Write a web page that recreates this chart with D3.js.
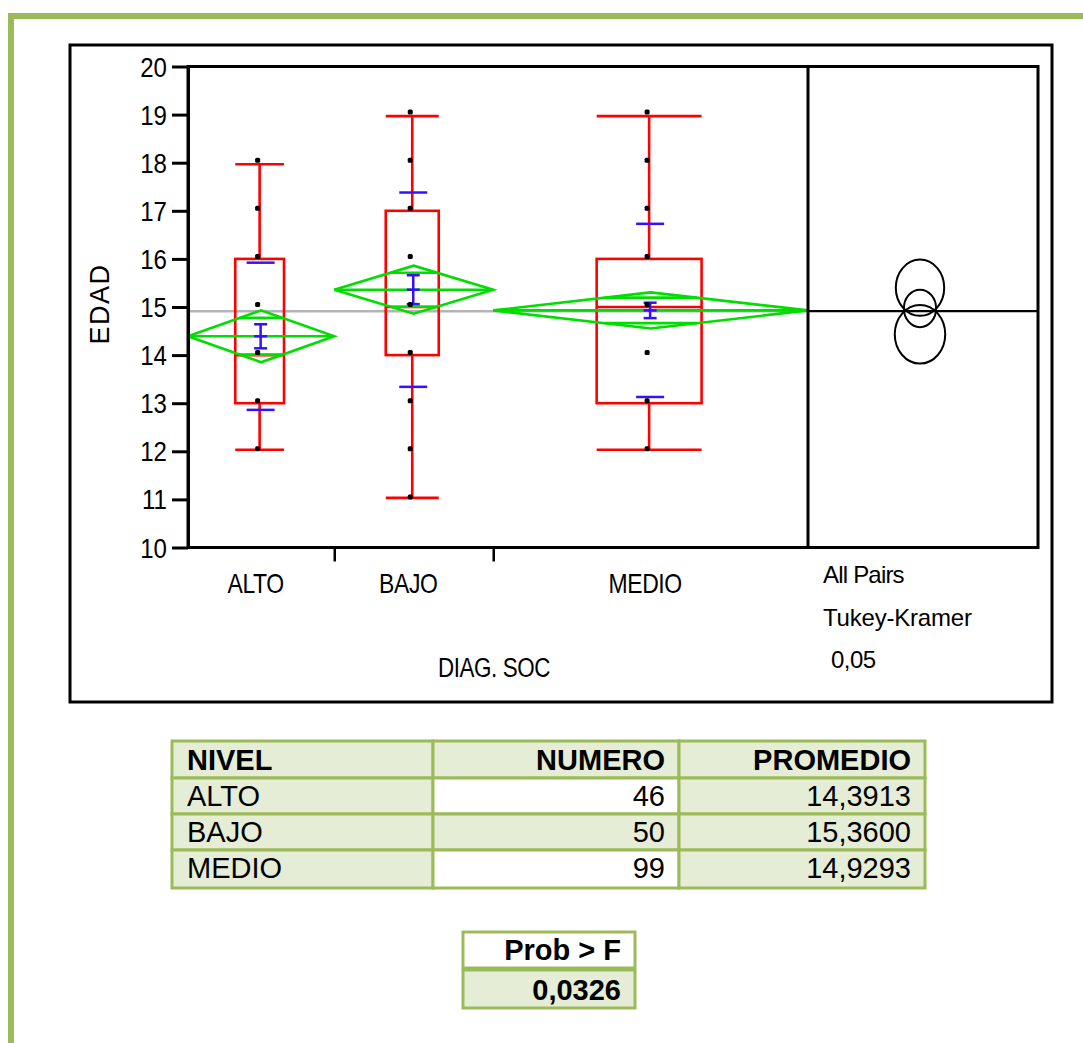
<!DOCTYPE html>
<html>
<head>
<meta charset="utf-8">
<script src="https://cdn.jsdelivr.net/npm/d3@7"></script>
<style>
  body { margin: 0; background: #fff; }
  svg { display: block; font-family: "Liberation Sans", Arial, sans-serif; }
</style>
</head>
<body>
<script>
// group data
const levels = ["ALTO", "BAJO", "MEDIO"];
const counts = [46, 50, 99];
const means = [14.3913, 15.3600, 14.9293];
const meanLabels = ["14,3913", "15,3600", "14,9293"];
const whiskerLow = [12, 11, 12];
const quartile1 = [13, 14, 13];
const medians = [14, 15, 15];
const quartile3 = [16, 17, 16];
const whiskerHigh = [18, 19, 19];
const stdDevs = [1.53, 2.02, 1.80];
const stdErrs = [0.25, 0.30, 0.16];
const ciHalf = [0.54, 0.50, 0.375];
const tukeyRadius = [0.61, 0.585, 0.39];
const agePoints = [
  [12, 13, 14, 15, 16, 17, 18],
  [11, 12, 13, 14, 15, 16, 17, 18, 19],
  [12, 13, 14, 15, 16, 17, 18, 19]
];
const grandMean = 14.913;
const yTickValues = [10, 11, 12, 13, 14, 15, 16, 17, 18, 19, 20];
const probF = "0,0326";

const width = 1083, height = 1043;
const RED = "#ff0000", GREEN = "#00dd00", BLUE = "#3311ff";
const TABLE_GREEN = "#9bbb59", TABLE_FILL = "#e5edd6";

const svg = d3.select("body").append("svg")
  .attr("width", width)
  .attr("height", height);

// page frame
svg.append("rect").attr("x", 8).attr("y", 13).attr("width", width - 8).attr("height", 6).attr("fill", TABLE_GREEN);
svg.append("rect").attr("x", 8).attr("y", 13).attr("width", 6).attr("height", height - 13).attr("fill", TABLE_GREEN);

// outer chart box
svg.append("rect")
  .attr("x", 70).attr("y", 45).attr("width", 982).attr("height", 657)
  .attr("fill", "none").attr("stroke", "#000").attr("stroke-width", 3);

const plotLeft = 188, plotRight = 808, panelRight = 1038;
const plotTop = 66.5, plotBottom = 547.5;

const y = d3.scaleLinear().domain([10, 20]).range([plotBottom, plotTop]);

// widths proportional to group size
const cum = [0];
counts.forEach(c => cum.push(cum[cum.length - 1] + c));
const x = d3.scaleLinear().domain([0, d3.sum(counts)]).range([plotLeft, plotRight]);
const groups = levels.map((name, i) => {
  const x0 = x(cum[i]), x1 = x(cum[i + 1]);
  return {
    name, i, x0, x1,
    cx: (x0 + x1) / 2 - 1.5,
    w: (x1 - x0) / 3
  };
});

// helper for horizontally scaled text
function label(g, txt, px, py, opts) {
  const o = Object.assign({ size: 28, sx: 1, anchor: "start", weight: "normal", ls: 0 }, opts);
  return g.append("text")
    .attr("transform", `translate(${px},${py}) scale(${o.sx},1)`)
    .attr("text-anchor", o.anchor)
    .attr("font-size", o.size)
    .attr("font-weight", o.weight)
    .attr("letter-spacing", o.ls)
    .attr("fill", "#000")
    .text(txt);
}

// grand mean line
svg.append("line")
  .attr("x1", plotLeft).attr("x2", plotRight)
  .attr("y1", y(grandMean)).attr("y2", y(grandMean))
  .attr("stroke", "#b4b4b4").attr("stroke-width", 2.5);
svg.append("line")
  .attr("x1", plotRight).attr("x2", panelRight)
  .attr("y1", y(grandMean)).attr("y2", y(grandMean))
  .attr("stroke", "#000").attr("stroke-width", 2.2);

// box plots
const box = svg.append("g").attr("stroke", RED).attr("stroke-width", 2.6).attr("fill", "none");
groups.forEach(g => {
  const i = g.i;
  box.append("line").attr("x1", g.cx).attr("x2", g.cx).attr("y1", y(whiskerHigh[i]) + 1).attr("y2", y(quartile3[i]));
  box.append("line").attr("x1", g.cx).attr("x2", g.cx).attr("y1", y(quartile1[i])).attr("y2", y(whiskerLow[i]) - 1);
  [whiskerHigh[i], whiskerLow[i]].forEach((v, k) => {
    const yy = y(v) + (k === 0 ? 1.5 : -1.5);
    box.append("line").attr("x1", g.cx - g.w / 2).attr("x2", g.cx + g.w / 2).attr("y1", yy).attr("y2", yy);
  });
  box.append("line").attr("x1", g.cx - g.w / 2).attr("x2", g.cx + g.w / 2).attr("y1", y(medians[i])).attr("y2", y(medians[i]));
  box.append("rect")
    .attr("x", g.cx - g.w / 2).attr("y", y(quartile3[i]))
    .attr("width", g.w).attr("height", y(quartile1[i]) - y(quartile3[i]));
});

// means diamonds
const dia = svg.append("g").attr("stroke", GREEN).attr("stroke-width", 2.6).attr("fill", "none");
groups.forEach(g => {
  const i = g.i, mid = (g.x0 + g.x1) / 2;
  dia.append("path").attr("d", d3.line()([
    [g.x0, y(means[i])], [mid, y(means[i] + ciHalf[i])],
    [g.x1, y(means[i])], [mid, y(means[i] - ciHalf[i])], [g.x0, y(means[i])]
  ]));
  dia.append("line").attr("x1", g.x0).attr("x2", g.x1).attr("y1", y(means[i])).attr("y2", y(means[i]));
  const ov = ciHalf[i] / Math.SQRT2;
  const half = (g.x1 - g.x0) / 2 * (1 - 1 / Math.SQRT2);
  [means[i] + ov, means[i] - ov].forEach(v => {
    dia.append("line").attr("x1", mid - half).attr("x2", mid + half).attr("y1", y(v)).attr("y2", y(v));
  });
});

// error bars and std dev lines
const blue = svg.append("g").attr("stroke", BLUE).attr("stroke-width", 2.5);
groups.forEach(g => {
  const i = g.i, bx = g.cx + 1;
  blue.append("line").attr("x1", bx).attr("x2", bx).attr("y1", y(means[i] + stdErrs[i])).attr("y2", y(means[i] - stdErrs[i]));
  [means[i] + stdErrs[i], means[i], means[i] - stdErrs[i]].forEach(v => {
    blue.append("line").attr("x1", bx - 6.5).attr("x2", bx + 6.5).attr("y1", y(v)).attr("y2", y(v));
  });
  [means[i] + stdDevs[i], means[i] - stdDevs[i]].forEach(v => {
    blue.append("line").attr("x1", bx - 14).attr("x2", bx + 14).attr("y1", y(v)).attr("y2", y(v));
  });
});

// data points
groups.forEach(g => {
  svg.append("g").selectAll("rect")
    .data(agePoints[g.i])
    .join("rect")
    .attr("x", g.cx - 4.5)
    .attr("y", d => y(d) - 5)
    .attr("width", 5)
    .attr("height", 5)
    .attr("rx", 1.5)
    .attr("fill", "#000");
});

// Tukey-Kramer comparison circles
const panelCx = 920;
svg.append("g").attr("fill", "none").attr("stroke", "#000").attr("stroke-width", 2)
  .selectAll("ellipse")
  .data(levels.map((_, i) => i))
  .join("ellipse")
  .attr("cx", panelCx)
  .attr("cy", i => y(means[i]) - 2)
  .attr("ry", i => y(10) - y(10 + tukeyRadius[i]))
  .attr("rx", i => (y(10) - y(10 + tukeyRadius[i])) * 0.86);

// frame of plot + panel
svg.append("rect")
  .attr("x", plotLeft).attr("y", plotTop)
  .attr("width", panelRight - plotLeft).attr("height", plotBottom - plotTop)
  .attr("fill", "none").attr("stroke", "#000").attr("stroke-width", 3);
svg.append("line")
  .attr("x1", plotRight).attr("x2", plotRight).attr("y1", plotTop).attr("y2", plotBottom)
  .attr("stroke", "#000").attr("stroke-width", 3);

// y axis
const yAxis = svg.append("g")
  .attr("transform", `translate(${plotLeft},0)`)
  .call(d3.axisLeft(y).tickValues(yTickValues).tickSize(16).tickSizeOuter(0).tickFormat(""));
yAxis.select(".domain").attr("stroke-width", 3);
yAxis.selectAll(".tick line").attr("stroke-width", 3);
yTickValues.forEach(v => label(svg, String(v), 167, y(v) + 10, { size: 28, sx: 0.86, anchor: "end" }));

// x axis (group boundaries)
const xAxis = svg.append("g")
  .attr("transform", `translate(0,${plotBottom})`)
  .call(d3.axisBottom(x).tickValues(cum.slice(1, -1)).tickSize(14).tickSizeOuter(0).tickFormat(""));
xAxis.select(".domain").remove();
xAxis.selectAll(".tick line").attr("stroke-width", 2.5);

groups.forEach(g => label(svg, g.name, g.cx - 4, 593, { size: 28, sx: 0.82, anchor: "middle", ls: -0.5 }));
label(svg, "DIAG. SOC", (plotLeft + plotRight) / 2 - 4, 677, { size: 28, sx: 0.8, anchor: "middle", ls: -0.5 });

svg.append("text")
  .attr("transform", "translate(109,304) rotate(-90)")
  .attr("text-anchor", "middle")
  .attr("font-size", 27)
  .attr("letter-spacing", 1.5)
  .text("EDAD");

label(svg, "All Pairs", 823, 583, { size: 24, ls: -0.8 });
label(svg, "Tukey-Kramer", 823, 626, { size: 24, ls: -0.2 });
label(svg, "0,05", 831, 668, { size: 24, ls: -0.5 });

// summary table
const colX = [172, 433, 679, 925];
const rowY = [741, 778, 814, 850, 888];
const headers = ["NIVEL", "NUMERO", "PROMEDIO"];
const tbl = svg.append("g");
for (let r = 0; r < 4; r++) {
  for (let c = 0; c < 3; c++) {
    const white = c === 1 && (r === 1 || r === 3);
    tbl.append("rect")
      .attr("x", colX[c]).attr("y", rowY[r])
      .attr("width", colX[c + 1] - colX[c]).attr("height", rowY[r + 1] - rowY[r])
      .attr("fill", white ? "#fff" : TABLE_FILL)
      .attr("stroke", TABLE_GREEN).attr("stroke-width", 3);
  }
}
headers.forEach((h, c) => {
  const tx = c === 0 ? colX[0] + 15 : colX[c + 1] - 14;
  label(tbl, h, tx, rowY[0] + 29, { size: 29, weight: "bold", anchor: c === 0 ? "start" : "end" });
});
levels.forEach((lv, r) => {
  const by = rowY[r + 1] + 28;
  label(tbl, lv, colX[0] + 15, by, { size: 29 });
  label(tbl, String(counts[r]), colX[2] - 14, by, { size: 29, anchor: "end" });
  label(tbl, meanLabels[r], colX[3] - 14, by, { size: 29, anchor: "end" });
});

// Prob > F box
const pb = svg.append("g");
pb.append("rect").attr("x", 463).attr("y", 932).attr("width", 172).attr("height", 36)
  .attr("fill", "#fff").attr("stroke", TABLE_GREEN).attr("stroke-width", 3);
pb.append("rect").attr("x", 463).attr("y", 970).attr("width", 172).attr("height", 38)
  .attr("fill", TABLE_FILL).attr("stroke", TABLE_GREEN).attr("stroke-width", 3);
label(pb, "Prob > F", 621, 960, { size: 29, weight: "bold", anchor: "end" });
label(pb, probF, 621, 1000, { size: 29, weight: "bold", anchor: "end" });
</script>
</body>
</html>
